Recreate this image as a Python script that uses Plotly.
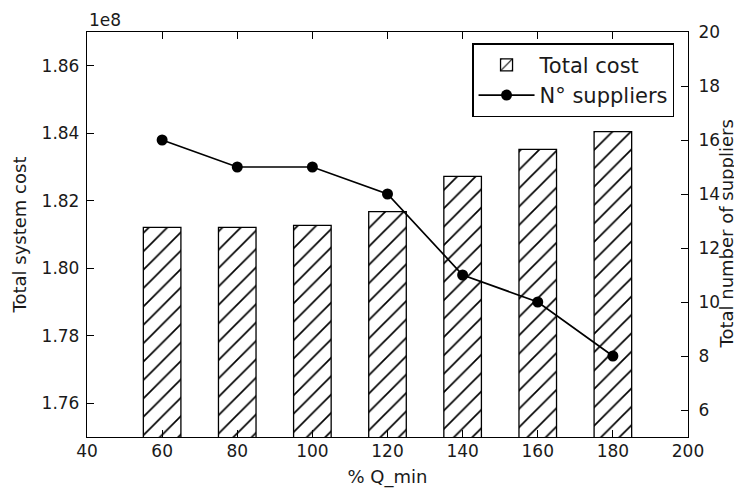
import plotly.graph_objects as go

q_min = [60, 80, 100, 120, 140, 160, 180]
total_cost = [1.8121e8, 1.8121e8, 1.8127e8, 1.8168e8, 1.8272e8, 1.8352e8, 1.8405e8]
n_suppliers = [16, 15, 15, 14, 11, 10, 8]
scale = 1e8
cost_scaled = [v / scale for v in total_cost]

left_ticks = [1.76, 1.78, 1.80, 1.82, 1.84, 1.86]
right_ticks = [6, 8, 10, 12, 14, 16, 18, 20]
x_ticks = [40, 60, 80, 100, 120, 140, 160, 180, 200]

font = "DejaVu Sans"
tick_size = 17
title_size = 18
txt = "#1a1a1a"
fig = go.Figure()
fig.add_trace(go.Bar(
    x=q_min, y=cost_scaled, width=10, name="Total cost",
    marker=dict(color="white", line=dict(color="black", width=1.3),
                pattern=dict(shape="/", fgcolor="black", bgcolor="white",
                             size=13, solidity=0.13, fgopacity=1)),
))
fig.add_trace(go.Scatter(
    x=q_min, y=n_suppliers, yaxis="y2", name="N° suppliers",
    mode="lines+markers", line=dict(color="black", width=1.7),
    marker=dict(color="black", size=11),
))

axis_common = dict(showline=True, linecolor="black", linewidth=1.3, ticks="inside",
                   ticklen=7, tickcolor="black", showgrid=False, zeroline=False,
                   automargin=False,
                   tickfont=dict(family=font, size=tick_size, color=txt))

fig.update_layout(
    width=742, height=492,
    margin=dict(l=79, r=62, t=24, b=63),
    plot_bgcolor="white", paper_bgcolor="white",
    font=dict(family=font, size=tick_size, color=txt),
    barmode="overlay",
    xaxis=dict(range=[40, 200], tickvals=x_ticks, mirror="ticks", ticklabelstandoff=-2,
               title=dict(text="% Q_min", font=dict(size=title_size), standoff=10), **axis_common),
    yaxis=dict(range=[1.75, 1.87], tickvals=left_ticks, ticklabelstandoff=3,
               ticktext=[f"{v:.2f}" for v in left_ticks],
               title=dict(text="Total system cost", font=dict(size=title_size), standoff=10), **axis_common),
    yaxis2=dict(range=[5, 20], tickvals=right_ticks, overlaying="y", side="right",
                ticklabelstandoff=6, **axis_common),
    legend=dict(x=0.641, y=0.972, xanchor="left", yanchor="top",
                bordercolor="black", borderwidth=1.3, bgcolor="white",
                font=dict(family=font, size=21, color=txt),
                traceorder="normal", itemwidth=56),
    showlegend=True,
)
fig.add_annotation(text="1e8", x=0, y=1, xref="paper", yref="paper",
                   xanchor="left", yanchor="bottom", showarrow=False,
                   font=dict(family=font, size=tick_size, color=txt), yshift=0)
fig.add_annotation(text="Total number of suppliers", x=1, y=0.5, xref="paper", yref="paper",
                   xanchor="center", yanchor="middle", showarrow=False, textangle=-90,
                   xshift=38, font=dict(family=font, size=title_size, color=txt))

fig.write_html("out.html")
